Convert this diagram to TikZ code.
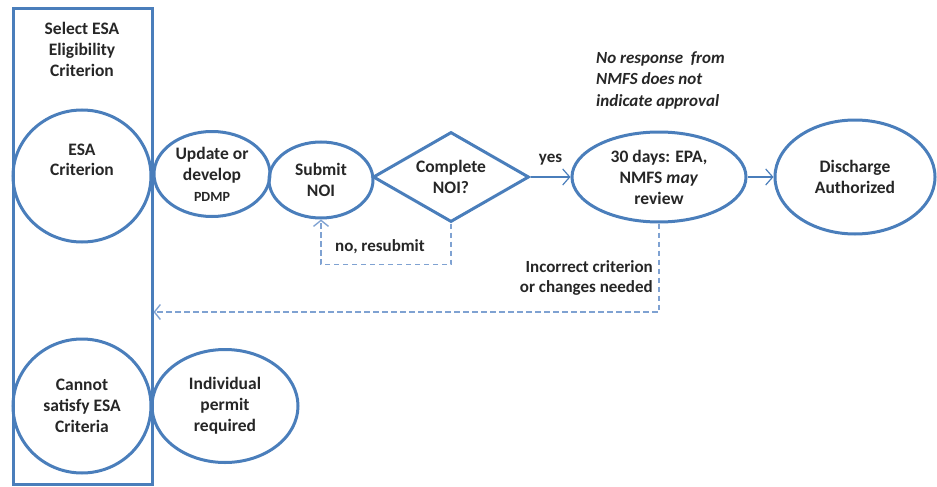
\documentclass[tikz,border=0pt]{standalone}
\usepackage{fontspec}
\setmainfont{Carlito}
\usetikzlibrary{shapes.geometric,arrows.meta,positioning}
\definecolor{esablue}{HTML}{4A7EBB}
\definecolor{dashblue}{HTML}{7FA2D2}
\definecolor{inkgray}{HTML}{262626}
\tikzset{
 stage/.style={ellipse,draw=esablue,line width=3pt,inner sep=0pt,align=center,text=inkgray,font=\fontsize{17.5}{21}\selectfont\bfseries},
 lbl/.style={text=inkgray,inner sep=1pt,font=\fontsize{17}{20.5}\selectfont\bfseries},
 flow/.style={draw=esablue,line width=1.2pt,-{Straight Barb[length=7pt,width=16pt,line width=1.2pt]}},
 backflow/.style={draw=dashblue,line width=1.7pt,dash pattern=on 5.5pt off 3.5pt,-{Straight Barb[length=6pt,width=15pt,line width=1.4pt]}}
}
\begin{document}
\begin{tikzpicture}[x=1pt,y=-1pt]
\useasboundingbox (0,0) rectangle (937,487);
% eligibility column
\node[draw=esablue,line width=3pt,minimum width=139pt,minimum height=475pt,inner sep=0pt] (esabox) at (82.5,246.5) {};
\node[lbl,align=center,font=\fontsize{17.5}{21}\selectfont\bfseries] (select) at (82,49) {Select ESA\\Eligibility\\Criterion};
\node[stage,minimum width=138pt,minimum height=132pt,
 label={[text=inkgray,align=center,font=\fontsize{17.5}{20}\selectfont\bfseries,yshift=16pt]center:ESA\\Criterion}] (esa) at (82,176) {};
\node[stage,minimum width=138pt,minimum height=134pt] (cannot) at (82,406) {Cannot\\satisfy ESA\\Criteria};
\node[stage,minimum width=146pt,minimum height=113pt] (individual) at (225,406) {Individual\\permit\\required};
% main row
\node[stage,minimum width=116pt,minimum height=85pt] (pdmp) at (212,174) {Update or\\develop\\{\fontsize{14}{15}\selectfont PDMP}};
\node[stage,minimum width=104pt,minimum height=76pt] (submit) at (321,180) {Submit\\NOI};
\node[stage,diamond,aspect=1.7,minimum width=156pt,minimum height=90pt] (check) at (451,177) {Complete\\NOI?};
\node[stage,minimum width=174pt,minimum height=90pt] (thirty) at (659,177) {30 days: EPA,\\NMFS \textit{may}\\review};
\node[stage,minimum width=160pt,minimum height=114pt] (discharge) at (855,177) {Discharge\\Authorized};
\node[lbl,align=left,anchor=west,font=\fontsize{17}{21.5}\selectfont\bfseries\itshape] (nonote) at (595,80) {No response\ \ from\\NMFS does not\\indicate approval};
% connectors
\draw[flow] (check) -- (thirty) node[lbl,midway,above=10pt] (yes) {yes};
\draw[flow] (thirty) -- (discharge);
\draw[backflow] (check.south) -- ++(0,41) -| (submit.south);
\node[lbl] (resubmit) at (380,247) {no, resubmit};
\coordinate (turn) at (0,312);
\draw[backflow] (thirty.south) |- (esabox.east |- turn);
\node[lbl,align=right,anchor=east] (incorrect) at (654,278) {Incorrect criterion\\or changes needed};
\end{tikzpicture}
\end{document}
